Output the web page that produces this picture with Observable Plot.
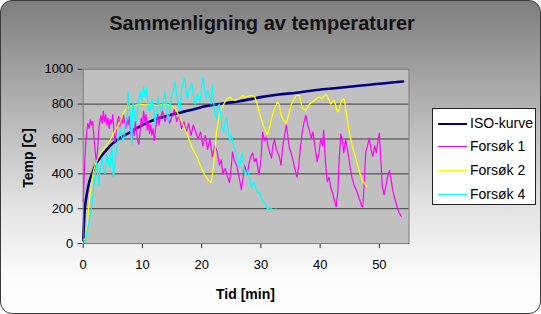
<!DOCTYPE html>
<html>
<head>
<meta charset="utf-8">
<script src="https://cdn.jsdelivr.net/npm/d3@7"></script>
<script src="https://cdn.jsdelivr.net/npm/@observablehq/plot@0.6"></script>
<style>
  html, body { margin: 0; padding: 0; background: #fff; }
  #chart {
    position: relative;
    width: 539px; height: 312px;
    border: 1px solid #3a3a3a;
    border-radius: 12px;
    overflow: hidden;
    background: linear-gradient(to bottom, #7e7e7e 0%, #b4b4b4 35%, #e2e2e2 65%, #fbfbfb 88%, #ffffff 100%);
    font-family: "Liberation Sans", Arial, sans-serif;
  }
  #chart svg.plot { position: absolute; left: -1px; top: -1px; }
  .lbl { position: absolute; line-height: 1; white-space: nowrap; color: #000; }
  #title { left: 0; width: 522px; text-align: center; top: 12px; font-size: 20px; font-weight: bold; color: #111; }
  #xlabel { left: 215px; top: 286px; font-size: 14px; font-weight: bold; }
  #ylabel { left: 27px; top: 157px; font-size: 14px; font-weight: bold; transform: translate(-50%, -50%) rotate(-90deg); }
  #legend {
    position: absolute; left: 431px; top: 107px; width: 102px; height: 95px;
    background: #fff; border: 1px solid #222;
  }
  .item { position: absolute; left: 0; height: 16px; width: 100px; }
  .swatch { position: absolute; left: 5px; width: 29px; top: 8px; }
  .item span { position: absolute; left: 37px; top: 1px; font-size: 14px; line-height: 1; }
</style>
</head>
<body>
<div id="chart">
  <div id="title" class="lbl">Sammenligning av temperaturer</div>
  <div id="ylabel" class="lbl">Temp [C]</div>
  <div id="xlabel" class="lbl">Tid [min]</div>
  <div id="legend"></div>
</div>
<script>
// Series names and colours
const seriesNames = ["ISO-kurve", "Forsøk 1", "Forsøk 2", "Forsøk 4"];
const seriesColors = ["#000080", "#ff00ff", "#ffff00", "#00ffff"];
const seriesWidths = [2.6, 1.2, 1.3, 1.3];

// Axis ticks
const xTicks = [0, 10, 20, 30, 40, 50];
const yTicks = [0, 200, 400, 600, 800, 1000];
const gridValues = [200, 400, 600, 800];

// ISO standard fire curve (time in min, temperature in °C)
const isoTime = [0, 0.25, 0.5, 1, 1.5, 2, 3, 4, 5, 6, 8, 10, 12, 15, 18, 21, 24, 27, 30, 33, 36, 39, 42, 45, 48, 51, 54];
const isoTemp = [20, 190, 260, 350, 400, 445, 500, 540, 575, 600, 640, 680, 710, 740, 765, 790, 805, 820, 840, 855, 865, 880, 890, 900, 910, 920, 930];

// Forsøk 1
const f1Time = [0, 0.2, 0.4, 0.6, 0.8, 1.0, 1.2, 1.4, 1.6, 1.8, 2.0, 2.2, 2.4, 2.6, 2.8, 3.0, 3.2, 3.4, 3.6, 3.8,
  4.0, 4.2, 4.4, 4.6, 4.8, 5.0, 5.2, 5.4, 5.6, 5.8, 6.0, 6.2, 6.4, 6.6, 6.8, 7.0, 7.2, 7.4, 7.6, 7.8,
  8.0, 8.2, 8.4, 8.6, 8.8, 9.0, 9.2, 9.4, 9.6, 9.8, 10.0, 10.2, 10.4, 10.6, 10.8, 11.0, 11.2, 11.4, 11.6, 11.8,
  12.0, 12.2, 12.4, 12.6, 12.8, 13.0, 13.4, 13.8, 14.2, 14.6, 15.0, 15.4, 15.8, 16.2, 16.6, 17.0, 17.4, 17.8,
  18.2, 18.6, 19.0, 19.4, 19.8, 20.2, 20.6, 21.0, 21.4, 21.8, 22.2, 22.6, 23.0, 23.3, 23.6, 24.0, 24.4, 24.7,
  25.0, 25.2, 25.5, 25.9, 26.2, 26.5, 26.7, 27.0, 27.2, 27.5, 27.7, 28.0, 28.3, 28.6, 28.9, 29.2, 29.5, 29.7,
  30.0, 30.3, 30.6, 30.9, 31.2, 31.5, 31.8, 32.0, 32.3, 32.6, 32.8, 33.1, 33.4, 33.7, 34.0, 34.3, 34.6, 34.8,
  35.1, 35.4, 35.8, 36.1, 36.4, 36.7, 37.0, 37.3, 37.6, 37.9, 38.2, 38.5, 38.8, 39.1, 39.5, 39.8, 40.1, 40.4,
  40.6, 40.9, 41.2, 41.5, 41.8, 42.1, 42.4, 42.7, 43.0, 43.2, 43.5, 43.8, 44.0, 44.3, 44.6, 44.9, 45.1, 45.4,
  45.8, 46.2, 46.6, 47.0, 47.2, 47.5, 47.7, 48.0, 48.3, 48.6, 48.9, 49.2, 49.5, 49.8, 50.0, 50.3, 50.5, 50.8,
  51.1, 51.4, 51.7, 52.0, 52.3, 52.6, 53.0, 53.3, 53.7];
const f1Temp = [240, 420, 560, 640, 690, 660, 710, 680, 700, 620, 540, 470, 520, 640, 700, 735, 690, 760, 700, 740,
  680, 720, 660, 710, 690, 740, 640, 580, 650, 700, 730, 670, 720, 690, 740, 700, 660, 720, 680, 730,
  640, 600, 660, 620, 700, 650, 590, 570, 640, 720, 680, 760, 700, 740, 650, 700, 630, 680, 620, 660,
  590, 650, 700, 740, 680, 720, 760, 700, 740, 690, 730, 770, 700, 740, 660, 700, 640, 690,
  620, 680, 640, 600, 640, 560, 620, 540, 600, 500, 560, 530, 450, 480, 400, 430, 380, 350,
  440, 525, 480, 450, 400, 350, 310, 380, 450, 420, 395, 460, 500, 520, 470, 490, 430, 395,
  480, 640, 590, 610, 560, 520, 490, 560, 595, 540, 525, 500, 450, 560, 620, 680, 600, 550,
  520, 480, 420, 380, 450, 560, 640, 700, 737, 680, 650, 605, 640, 560, 470, 520, 600, 560,
  650, 470, 355, 380, 320, 290, 250, 210, 300, 470, 630, 580, 520, 600, 540, 480, 430, 375,
  330, 300, 260, 215, 210, 380, 525, 560, 605, 540, 500, 560, 520, 600, 634, 450, 330, 280,
  330, 385, 420, 360, 300, 260, 210, 180, 155];

// Forsøk 2
const f2Time = [0, 0.4, 0.7, 0.9, 1.3, 1.7, 2.1, 2.5, 3.0, 3.5, 4.0, 4.5, 5.1, 5.6, 6.2, 6.8, 7.3, 7.9, 8.5, 9.5,
  10.5, 11.5, 12.5, 13.5, 14.5, 15.5, 16.2, 16.9, 17.6, 18.4, 19.3, 20.0, 20.5, 21.1, 21.6, 21.9, 22.2, 22.5, 23.0, 23.4,
  23.9, 24.3, 24.7, 25.1, 25.5, 26.0, 26.4, 26.9, 27.3, 27.7, 28.3, 28.9, 29.3, 29.7, 30.2, 30.6, 31.1, 31.5, 31.8, 32.3,
  32.8, 33.1, 33.4, 33.8, 34.3, 34.7, 35.1, 35.6, 36.0, 36.5, 37.0, 37.6, 38.2, 39.0, 39.4, 39.8, 40.3, 40.6, 41.0, 41.4,
  41.8, 42.1, 42.4, 42.9, 43.2, 43.5, 43.9, 44.1, 44.4, 44.9, 45.4, 46.0, 46.6, 47.1, 47.9];
const f2Temp = [20, 30, 100, 205, 320, 410, 460, 490, 520, 545, 565, 590, 630, 660, 695, 750, 775, 785, 790, 800,
  795, 800, 790, 800, 795, 777, 730, 680, 620, 550, 490, 430, 395, 365, 350, 420, 510, 640, 735, 780,
  810, 830, 840, 830, 822, 825, 830, 850, 840, 845, 850, 845, 810, 755, 700, 660, 625, 670, 720, 775,
  810, 800, 737, 710, 690, 740, 795, 830, 850, 850, 775, 765, 800, 820, 830, 842, 830, 845, 857, 830,
  800, 815, 820, 755, 765, 810, 830, 825, 755, 640, 565, 490, 415, 365, 325];

// Forsøk 4
const f4Time = [0, 0.3, 0.6, 0.9, 1.2, 1.5, 1.8, 2.0, 2.3, 2.6, 2.9, 3.2, 3.5, 3.7, 4.0, 4.3, 4.5, 4.7, 4.9, 5.1,
  5.4, 5.7, 6.0, 6.2, 6.5, 6.8, 7.1, 7.4, 7.6, 7.9, 8.2, 8.4, 8.7, 9.0, 9.3, 9.6, 9.9, 10.2, 10.5, 10.7,
  10.9, 11.2, 11.6, 11.9, 12.1, 12.4, 12.6, 12.9, 13.2, 13.5, 13.8, 14.1, 14.3, 14.6, 14.9, 15.2, 15.5, 15.8, 16.1, 16.3,
  16.6, 16.9, 17.1, 17.4, 17.6, 17.9, 18.3, 18.6, 18.9, 19.3, 19.7, 20.0, 20.2, 20.5, 20.8, 21.0, 21.3, 21.6, 21.8, 22.2,
  22.5, 22.8, 23.0, 23.4, 23.7, 24.0, 24.2, 24.5, 24.7, 25.0, 25.3, 25.6, 25.9, 26.2, 26.4, 26.7, 26.9, 27.2, 27.5, 27.8,
  28.1, 28.4, 28.6, 28.9, 29.2, 29.5, 29.8, 30.1, 30.4, 30.6, 30.9, 31.1, 31.5, 31.9, 32.3, 32.6];
const f4Temp = [0, 10, 60, 110, 170, 225, 330, 395, 470, 335, 430, 490, 420, 400, 510, 460, 435, 520, 550, 380,
  470, 560, 620, 660, 610, 590, 680, 710, 870, 760, 565, 810, 740, 690, 800, 870, 820, 900, 840, 890,
  805, 755, 830, 760, 680, 760, 840, 790, 760, 820, 870, 780, 700, 760, 840, 880, 930, 850, 800, 760,
  880, 920, 950, 870, 830, 880, 920, 850, 800, 860, 810, 900, 955, 880, 830, 880, 850, 800, 910, 750,
  720, 790, 800, 670, 640, 700, 725, 640, 590, 620, 575, 540, 500, 470, 440, 500, 520, 410, 395, 420,
  380, 320, 335, 350, 310, 295, 290, 255, 240, 235, 215, 200, 205, 195, 195, 198];

const seriesTimes = [isoTime, f1Time, f2Time, f4Time];
const seriesTemps = [isoTemp, f1Temp, f2Temp, f4Temp];

const lineMarks = seriesNames.map((name, i) => {
  const rows = seriesTimes[i].map((t, j) => ({ t, v: seriesTemps[i][j] }));
  return Plot.line(rows, {
    x: "t", y: "v",
    stroke: seriesColors[i],
    strokeWidth: seriesWidths[i],
    curve: i === 0 ? "monotone-x" : "linear",
    strokeLinejoin: "round"
  });
});

const plot = Plot.plot({
  width: 541,
  height: 314,
  marginLeft: 83,
  marginRight: 131,
  marginTop: 69,
  marginBottom: 70,
  x: { domain: [0, 55] },
  y: { domain: [0, 1000] },
  style: { background: "transparent", fontFamily: "'Liberation Sans', Arial, sans-serif", color: "#000", overflow: "visible" },
  marks: [
    Plot.frame({ fill: "#c0c0c0" }),
    Plot.ruleY(gridValues, { stroke: "#3c3c3c", strokeWidth: 1 }),
    Plot.axisY({ ticks: yTicks, tickSize: 5, tickPadding: 5, fontSize: 13, label: null, tickFormat: d => String(d), stroke: "#333" }),
    Plot.axisX({ ticks: xTicks, tickSize: 5, tickPadding: 11, fontSize: 13, label: null, tickFormat: d => String(d), stroke: "#333" }),
    ...lineMarks,
    Plot.frame({ stroke: "#7a7a7a" })
  ]
});
plot.classList.add("plot");
document.getElementById("chart").prepend(plot);

// Legend
const legend = document.getElementById("legend");
const itemTops = [6, 29, 53, 77];
seriesNames.forEach((name, i) => {
  const item = document.createElement("div");
  item.className = "item";
  item.style.top = itemTops[i] + "px";
  const sw = document.createElement("div");
  sw.className = "swatch";
  sw.style.borderTop = `${i === 0 ? 2.5 : 1.5}px solid ${seriesColors[i]}`;
  const label = document.createElement("span");
  label.textContent = name;
  item.append(sw, label);
  legend.append(item);
});
</script>
</body>
</html>
